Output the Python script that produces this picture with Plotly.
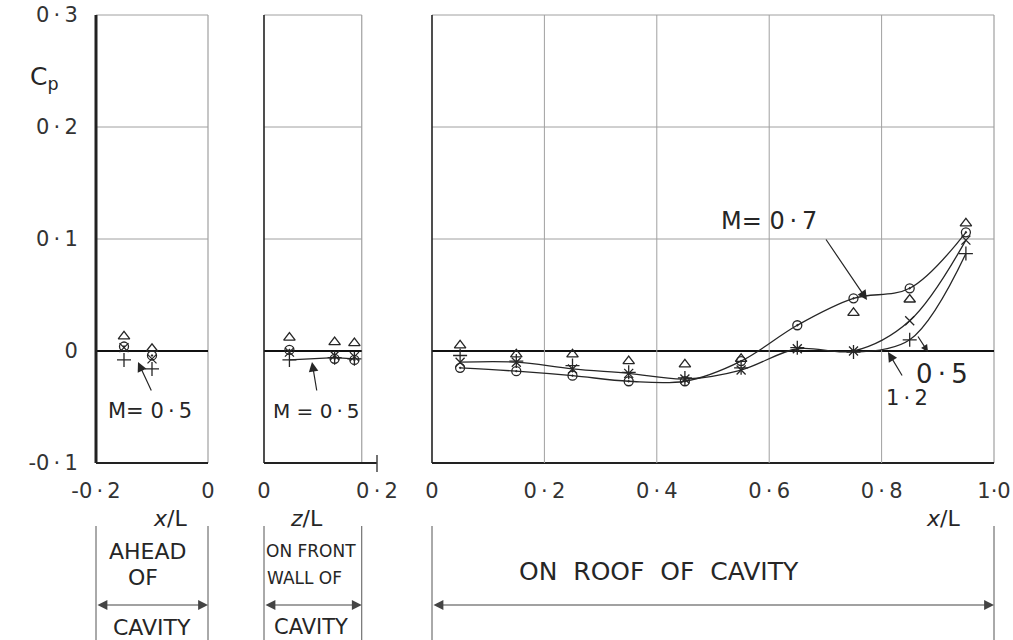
import plotly.graph_objects as go

W, H = 1013, 640
D = "\u2009·\u2009"   # hand-lettered decimal point with its gaps

# ---------------- data ----------------
# ahead of cavity (x/L)
ahead_x = [-0.15, -0.10]
ahead_tri = [0.013, 0.002]
ahead_circ = [0.004, -0.004]
ahead_plus = [-0.008, -0.016]
ahead_cross = [0.003, -0.007]

# on front wall of cavity (z/L)
wall_z = [0.045, 0.125, 0.16]
wall_tri = [0.012, 0.008, 0.007]
wall_circ = [0.001, -0.007, -0.008]
wall_plus = [-0.008, -0.006, -0.007]
wall_cross = [-0.001, -0.004, -0.005]

# on roof of cavity (x/L)
roof_x = [0.05, 0.15, 0.25, 0.35, 0.45, 0.55, 0.65, 0.75, 0.85, 0.95]
roof_tri = [0.005, -0.003, -0.003, -0.009, -0.012, -0.007, None, 0.034, 0.046, 0.114]
roof_circ = [-0.015, -0.018, -0.022, -0.027, -0.027, -0.009, 0.023, 0.047, 0.056, 0.106]   # M = 0.7
roof_plus = [-0.004, -0.009, -0.013, -0.019, -0.024, -0.015, 0.003, -0.001, 0.010, 0.087]  # M = 0.5
roof_cross = [-0.010, -0.010, -0.016, -0.020, -0.025, -0.017, 0.002, 0.000, 0.027, 0.099]  # M = 1.2

y_ticks = [-0.1, 0, 0.1, 0.2, 0.3]
y_ticktext = ["-0" + D + "1", "0", "0" + D + "1", "0" + D + "2", "0" + D + "3"]
x1_ticks = [-0.2, 0]
x1_ticktext = ["-0" + D + "2", "0"]
x2_ticks = [0, 0.2]
x2_ticktext = ["0", "0" + D + "2"]
x3_ticks = [0, 0.2, 0.4, 0.6, 0.8, 1.0]
x3_ticktext = ["0", "0" + D + "2", "0" + D + "4", "0" + D + "6", "0" + D + "8", "1·0"]
WALL_END = 0.173   # z/L where the front wall panel ends

# ---------------- styling / layout ----------------
INK = "#262626"
GRID = "#a0a0a0"
FONT = "DejaVu Sans"

P1 = (96, 208)
P2 = (264, 377)
P3 = (432, 994)
Y_TOP, Y_BOT = 15, 463
X2_MAX = 0.2


def px(x):
    return x / W


def py(y):
    return 1 - y / H


ydom = [py(Y_BOT), py(Y_TOP)]

fig = go.Figure()

SYM = {
    "tri": dict(symbol="triangle-up-open", size=10),
    "circ": dict(symbol="circle-open-dot", size=9),
    "plus": dict(symbol="cross-thin-open", size=10),
    "cross": dict(symbol="x-thin-open", size=9),
}


def markers(x, y, kind, xa, ya):
    m = dict(SYM[kind])
    m.update(color=INK, line=dict(color=INK, width=1.3))
    fig.add_trace(go.Scatter(x=x, y=y, mode="markers", marker=m,
                             xaxis=xa, yaxis=ya, showlegend=False,
                             hoverinfo="skip"))


def curve(x, y, xa, ya, shape="spline"):
    fig.add_trace(go.Scatter(x=x, y=y, mode="lines",
                             line=dict(color=INK, width=1.3, shape=shape, smoothing=1.0),
                             xaxis=xa, yaxis=ya, showlegend=False, hoverinfo="skip"))


# panel 1
markers(ahead_x, ahead_tri, "tri", "x", "y")
markers(ahead_x, ahead_circ, "circ", "x", "y")
markers(ahead_x, ahead_plus, "plus", "x", "y")
markers(ahead_x, ahead_cross, "cross", "x", "y")

# panel 2
curve(wall_z, wall_plus, "x2", "y2", shape="linear")
markers(wall_z, wall_tri, "tri", "x2", "y2")
markers(wall_z, wall_circ, "circ", "x2", "y2")
markers(wall_z, wall_plus, "plus", "x2", "y2")
markers(wall_z, wall_cross, "cross", "x2", "y2")

# panel 3 curves
curve(roof_x, roof_circ, "x3", "y3")
curve(roof_x, roof_cross, "x3", "y3")
curve(roof_x[7:], roof_plus[7:], "x3", "y3")
markers(roof_x, roof_tri, "tri", "x3", "y3")
markers(roof_x, roof_circ, "circ", "x3", "y3")
markers(roof_x, roof_plus, "plus", "x3", "y3")
markers(roof_x, roof_cross, "cross", "x3", "y3")

tickfont = dict(family=FONT, size=21, color="#333")


def xaxis_cfg(p, rng, tv, tt, anchor):
    return dict(domain=[px(p[0]), px(p[1])], range=rng, tickvals=tv, ticktext=tt,
                ticks="outside", ticklen=9, tickcolor="rgba(0,0,0,0)",
                showgrid=False, zeroline=False, showline=False, anchor=anchor,
                tickfont=tickfont, fixedrange=True, automargin=False,
                ticklabeloverflow="allow")


def yaxis_cfg(anchor, labels):
    return dict(domain=ydom, range=[-0.1, 0.3], tickvals=y_ticks, ticktext=y_ticktext,
                ticks="outside" if labels else "", ticklen=13, tickcolor="rgba(0,0,0,0)",
                showticklabels=labels, showgrid=False, zeroline=False, showline=False,
                anchor=anchor, tickfont=tickfont, fixedrange=True, automargin=False,
                ticklabeloverflow="allow")


fig.update_layout(
    width=W, height=H, autosize=False,
    margin=dict(l=0, r=0, t=0, b=0),
    paper_bgcolor="white", plot_bgcolor="white",
    font=dict(family=FONT, color=INK),
    xaxis=xaxis_cfg(P1, [-0.2, 0], x1_ticks, x1_ticktext, "y"),
    xaxis2=xaxis_cfg(P2, [0, X2_MAX], x2_ticks, x2_ticktext, "y2"),
    xaxis3=xaxis_cfg(P3, [0, 1], x3_ticks, x3_ticktext, "y3"),
    yaxis=yaxis_cfg("x", True),
    yaxis2=yaxis_cfg("x2", False),
    yaxis3=yaxis_cfg("x3", False),
)

shapes = []


def seg(xref, yref, x0, y0, x1, y1, color, width):
    shapes.append(dict(type="line", xref=xref, yref=yref, x0=x0, y0=y0, x1=x1, y1=y1,
                       line=dict(color=color, width=width), layer="below"))


panels = [("x", "y", 1.0, 3.0), ("x2", "y2", WALL_END / X2_MAX, 1.6), ("x3", "y3", 1.0, 1.6)]
for xa, ya, xr, lw in panels:
    xd, yd = xa + " domain", ya + " domain"
    for g in (0.1, 0.2):
        seg(xd, ya, 0, g, xr, g, GRID, 1)
    seg(xd, yd, 0, 1, xr, 1, GRID, 1)          # top
    seg(xd, yd, xr, 0, xr, 1, GRID, 1.2)       # right
    seg(xd, ya, 0, 0, xr, 0, "#111", 2)        # zero line
    seg(xd, yd, 0, 0, 0, 1, "#222", lw)        # left
    seg(xd, yd, 0, 0, 1, 0, "#222", 2)         # bottom

for g in x3_ticks[1:-1]:
    seg("x3", "y3 domain", g, 0, g, 1, GRID, 1)

# little end tick on the front-wall axis
seg("paper", "paper", px(P2[1]), py(455), px(P2[1]), py(472), "#444", 1.5)

# brackets below the panels
P2_END = P2[0] + (P2[1] - P2[0]) * WALL_END / X2_MAX
for x0, x1 in [(P1[0], P1[1]), (P2[0], P2_END), (P3[0], P3[1])]:
    seg("paper", "paper", px(x0), py(526), px(x0), py(640), "#555", 1)
    seg("paper", "paper", px(x1), py(526), px(x1), py(640), "#555", 1)

fig.update_layout(shapes=shapes)

ann = []


def text(x, y, s, size, **kw):
    d = dict(x=px(x), y=py(y), xref="paper", yref="paper", text=s, showarrow=False,
             xanchor="center", yanchor="middle", font=dict(family=FONT, size=size, color=INK))
    d.update(kw)
    ann.append(d)


def arrow(tail, head, side="end", width=1.2, color=INK, size=1.6):
    ann.append(dict(x=px(head[0]), y=py(head[1]), xref="paper", yref="paper", text="",
                    showarrow=True, ax=tail[0] - head[0], ay=tail[1] - head[1],
                    arrowhead=2, arrowsize=size, arrowwidth=width, arrowcolor=color,
                    arrowside=side))


text(44, 78, "C<sub>p</sub>", 25)

text(150, 411, "M= 0" + D + "5", 21)
arrow((152, 392), (138, 362))
text(316, 411, "M = 0" + D + "5", 20)
arrow((317, 392), (312, 362))
text(769, 221, "M= 0" + D + "7", 24)
arrow((825, 238), (867, 300))
text(942, 374, "0" + D + "5", 26)
arrow((917, 335), (928, 352), size=1.2)
text(907, 398, "1" + D + "2", 21)
arrow((903, 377), (888, 352))

text(170, 518, "<i>x</i>/L", 22)
text(306, 518, "<i>z</i>/L", 22)
text(943, 518, "<i>x</i>/L", 22)

text(147, 551, "AHEAD", 22)
text(143, 577, "OF", 22)
text(152, 627, "CAVITY", 22)
text(311, 551, "ON FRONT", 17)
text(304, 578, "WALL OF", 17)
text(311, 627, "CAVITY", 21)
text(659, 571, "ON  ROOF  OF  CAVITY", 25)

arrow((P1[0], 605), (P1[1], 605), side="end+start", width=1.1, color="#444", size=1.8)
arrow((P2[0], 605), (P2_END, 605), side="end+start", width=1.1, color="#444", size=1.8)
arrow((P3[0], 605), (P3[1], 605), side="end+start", width=1.1, color="#444", size=1.8)

fig.update_layout(annotations=ann)

fig.write_html("out.html")
